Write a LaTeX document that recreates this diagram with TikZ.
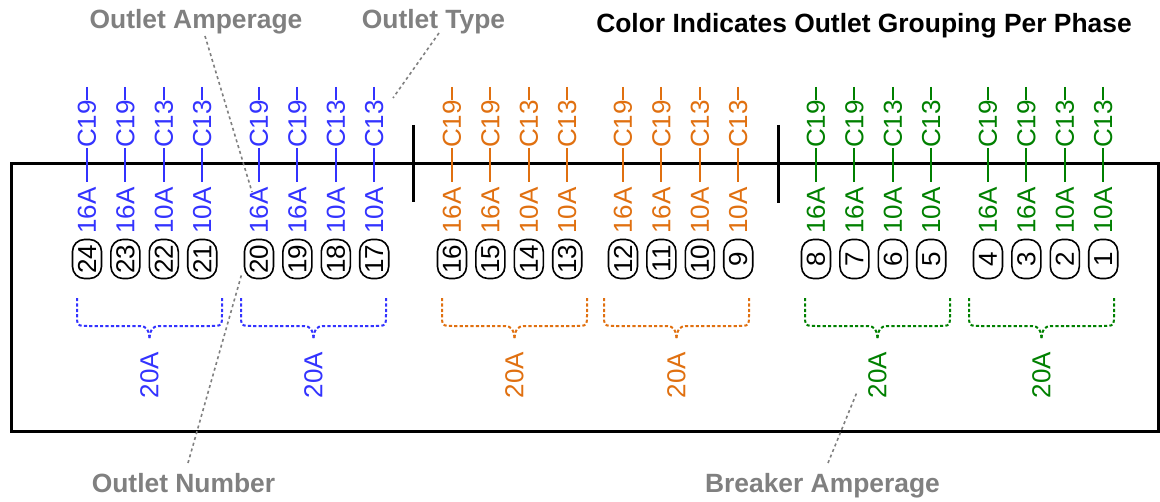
\documentclass[tikz,border=0pt]{standalone}
\usepackage{fontspec}
\setmainfont{Liberation Sans}
\definecolor{cblue}{RGB}{51,51,255}
\definecolor{corange}{RGB}{224,112,16}
\definecolor{cgreen}{RGB}{0,128,0}
\definecolor{lgray}{RGB}{128,128,128}
\begin{document}
\begin{tikzpicture}[x=0.5pt,y=-0.5pt,
  font=\fontsize{13pt}{15pt}\selectfont,
  vlbl/.style={rotate=90, inner sep=0pt, outer sep=0pt},
  numbox/.style={draw=black, rounded corners=6pt, rotate=90, minimum width=19.5pt,
    minimum height=14.5pt, inner sep=0pt, line width=0.8pt, text=black},
  colline/.style={line width=1pt},
  brace/.style={line width=1pt, dash pattern=on 1.6pt off 1.1pt},
  leader/.style={lgray, line width=0.8pt, dash pattern=on 1.5pt off 1.5pt},
  note/.style={lgray, anchor=base, font=\bfseries\fontsize{13.2pt}{15pt}\selectfont},
  sep/.style={line width=1.5pt}]
\useasboundingbox (0,0) rectangle (1160,502);

% panel
\draw[line width=1.5pt] (11,164) rectangle (1158,431);

% separators
\coordinate (s1t) at (413,125); \coordinate (s1b) at (413,202);
\coordinate (s2t) at (778,125); \coordinate (s2b) at (778,203);
\draw[sep] (s1t) -- (s1b);
\draw[sep] (s2t) -- (s2b);

% outlets
\foreach \g/\gx/\col in {0/87/cblue, 1/259/cblue, 2/452/corange, 3/623/corange, 4/816/cgreen, 5/988/cgreen} {
  \foreach \i/\t/\a in {0/C19/16A, 1/C19/16A, 2/C13/10A, 3/C13/10A} {
    \pgfmathsetmacro\cx{\gx+38.4*\i}
    \pgfmathtruncatemacro\n{24-4*\g-\i}
    \coordinate (top\n) at (\cx,87);
    \node[vlbl,text=\col] (t\n) at (\cx,124) {\t};
    \node[vlbl,text=\col] (a\n) at (\cx,210.5) {\a};
    \node[numbox] (n\n) at (\cx,259) {\n};
    \draw[colline,\col] (top\n) -- (t\n.east);
    \draw[colline,\col,shorten >=2.5pt] (t\n.west) -- (a\n.east);
  }
}

% breaker braces
\foreach \k/\bx/\col in {1/77/cblue, 2/241/cblue, 3/442/corange, 4/604/corange, 5/805/cgreen, 6/969/cgreen} {
  \pgfmathsetmacro\tx{\bx+72.5}
  \pgfmathsetmacro\ex{\bx+145}
  \draw[brace,\col] (\bx,298) -- (\bx,314) .. controls (\bx,326) .. ({\bx+12},326)
     -- ({\tx-9},326) .. controls ({\tx-3},326) and (\tx,331) .. (\tx,340);
  \draw[brace,\col] (\ex,298) -- (\ex,314) .. controls (\ex,326) .. ({\ex-12},326)
     -- ({\tx+9},326) .. controls ({\tx+3},326) and (\tx,331) .. (\tx,340);
  \node[vlbl,text=\col] (b\k) at (\tx,375) {20A};
}

% title and notes
\node[anchor=base, font=\bfseries\fontsize{13.2pt}{15pt}\selectfont] (title) at (864,33) {Color Indicates Outlet Grouping Per Phase};
\node[note] (oa) at (196,28.5) {Outlet Amperage};
\node[note] (ot) at (433.5,28.5) {Outlet Type};
\node[note] (on) at (183.5,492) {Outlet Number};
\node[note] (ba) at (822.5,492) {Breaker Amperage};

% leaders
\coordinate (oa1) at (205,36);  \coordinate (oa2) at (252,192);
\coordinate (ot1) at (439,33);  \coordinate (ot2) at (393,98);
\coordinate (on1) at (188,463); \coordinate (on2) at (242,273);
\coordinate (ba1) at (828,463); \coordinate (ba2) at (857,392);
\draw[leader] (oa1) -- (oa2);
\draw[leader] (ot1) -- (ot2);
\draw[leader] (on1) -- (on2);
\draw[leader] (ba1) -- (ba2);
\end{tikzpicture}
\end{document}
